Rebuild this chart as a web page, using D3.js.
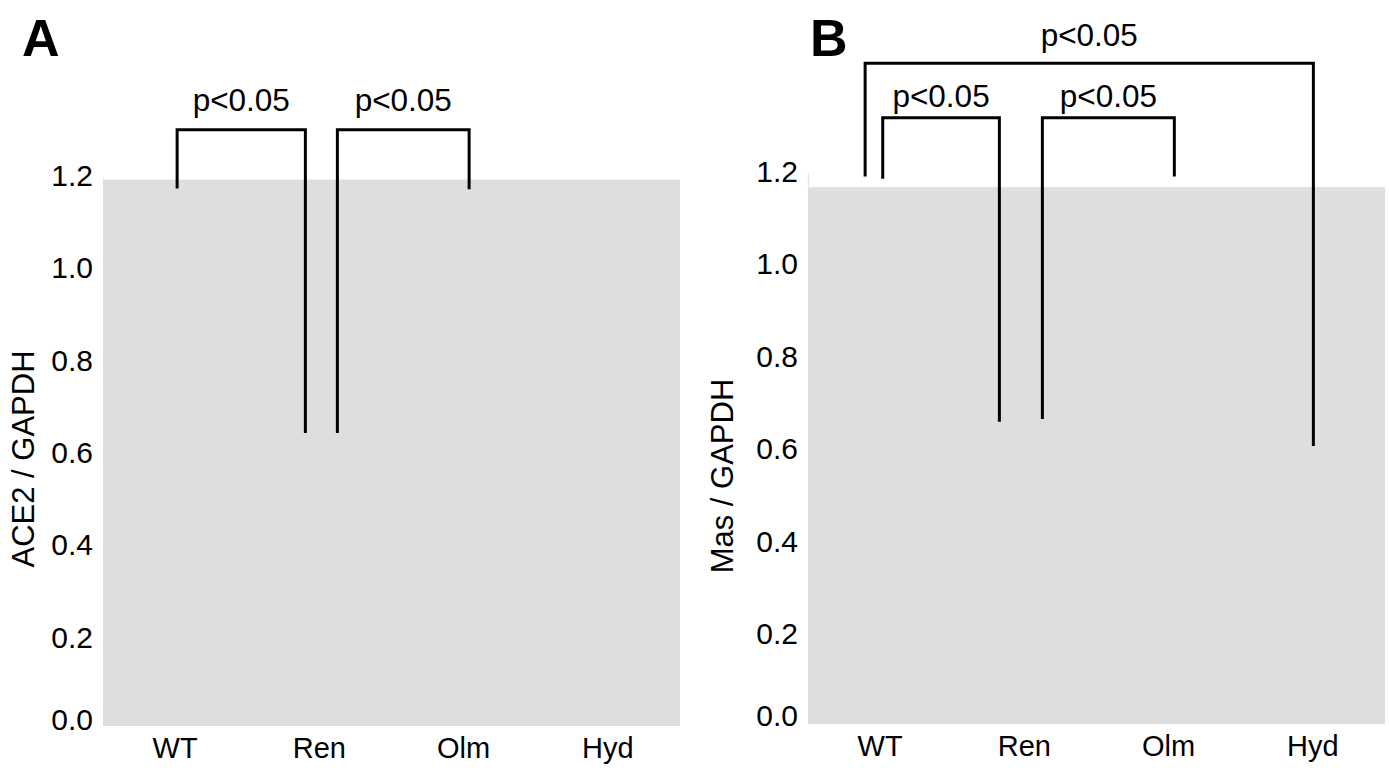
<!DOCTYPE html>
<html>
<head>
<meta charset="utf-8">
<script src="https://cdn.jsdelivr.net/npm/d3@7/dist/d3.min.js"></script>
<style>
  html, body { margin: 0; padding: 0; background: #ffffff; }
  svg { display: block; }
  text { font-family: "Liberation Sans", Arial, sans-serif; fill: #000; }
</style>
</head>
<body>
<svg id="chart" width="1389" height="772"></svg>
<script>
// ---------------- data ----------------
const categories = ["WT", "Ren", "Olm", "Hyd"];
const yTickValues = [0, 0.2, 0.4, 0.6, 0.8, 1.0, 1.2];
const panelLetters = ["A", "B"];
const yAxisTitles = ["ACE2 / GAPDH", "Mas / GAPDH"];
const backgroundTop = [1.19, 1.165];     // top of grey plot field (data units)

// Panel A significance brackets
const bracketPairsA = [["WT", "Ren"], ["Ren", "Olm"]];
const bracketTopA = [1.298, 1.298];
const bracketEndsA = [[1.171, 0.641], [0.641, 1.169]];
const bracketTextA = ["p<0.05", "p<0.05"];

// Panel B significance brackets
const bracketPairsB = [["WT", "Hyd"], ["WT", "Ren"], ["Ren", "Olm"]];
const bracketTopB = [1.433, 1.315, 1.315];
const bracketEndsB = [[1.188, 0.605], [1.183, 0.657], [0.663, 1.188]];
const bracketTextB = ["p<0.05", "p<0.05", "p<0.05"];

// ---------------- layout ----------------
const panels = [
  { left: 103, right: 680, y0: 729, y12: 175, letterX: 22, titleX: 34, titleY: 459, bottom: 726,
    legOffsets: [[2, -14], [18, 5.5]], labelGap: [19, 19],
    pairs: bracketPairsA, tops: bracketTopA, ends: bracketEndsA, texts: bracketTextA },
  { left: 808, right: 1385, y0: 725.4, y12: 171, letterX: 810, titleX: 733, titleY: 476, bottom: 724,
    legOffsets: [[-15, 0.5], [2.6, -25], [18, 5.7]], labelGap: [17, 11, 11],
    pairs: bracketPairsB, tops: bracketTopB, ends: bracketEndsB, texts: bracketTextB }
];

const svg = d3.select("#chart");

panels.forEach((p, pi) => {
  const x = d3.scaleBand().domain(categories).range([p.left, p.right]).padding(0);
  const y = d3.scaleLinear().domain([0, 1.2]).range([p.y0, p.y12]);
  const g = svg.append("g");

  // grey plot field
  g.append("rect")
    .attr("x", p.left).attr("y", y(backgroundTop[pi]))
    .attr("width", p.right - p.left)
    .attr("height", p.bottom - y(backgroundTop[pi]))
    .attr("fill", "#dededd");

  // faint axis line
  g.append("line")
    .attr("x1", p.left + 0.5).attr("x2", p.left + 0.5)
    .attr("y1", y(1.2) + 2).attr("y2", y(backgroundTop[pi]))
    .attr("stroke", "#e6e6e6").attr("stroke-width", 1.5);

  // y axis via d3 axis (ticks hidden, labels only)
  const yAxis = d3.axisLeft(y).tickValues(yTickValues).tickFormat(d3.format(".1f"))
    .tickSize(0).tickPadding(0);
  const ya = g.append("g").attr("transform", `translate(${p.left - 10},0)`).call(yAxis);
  ya.select(".domain").remove();
  ya.selectAll("text")
    .attr("font-family", "Liberation Sans, Arial, sans-serif")
    .attr("font-size", 30).attr("fill", "#000")
    .attr("dy", d => d === 0 ? "0em" : "0.35em");

  // x axis labels via d3 axis
  const xAxis = d3.axisBottom(x).tickSize(0).tickPadding(0);
  const xa = g.append("g").attr("transform", `translate(0,${p.bottom})`).call(xAxis);
  xa.select(".domain").remove();
  xa.selectAll("text")
    .attr("font-family", "Liberation Sans, Arial, sans-serif")
    .attr("font-size", 29).attr("fill", "#000")
    .attr("y", 32).attr("dy", 0);

  // y axis title
  g.append("text")
    .attr("transform", `translate(${p.titleX},${p.titleY}) rotate(-90)`)
    .attr("text-anchor", "middle")
    .attr("font-size", 31)
    .text(yAxisTitles[pi]);

  // panel letter
  g.append("text")
    .attr("x", p.letterX).attr("y", 56)
    .attr("font-size", 52).attr("font-weight", "bold")
    .text(panelLetters[pi]);

  // brackets
  p.pairs.forEach((pair, bi) => {
    const xl = x(pair[0]) + x.bandwidth() / 2 + p.legOffsets[bi][0];
    const xr = x(pair[1]) + x.bandwidth() / 2 + p.legOffsets[bi][1];
    const yt = y(p.tops[bi]);
    const path = d3.path();
    path.moveTo(xl, y(p.ends[bi][0]));
    path.lineTo(xl, yt);
    path.lineTo(xr, yt);
    path.lineTo(xr, y(p.ends[bi][1]));
    g.append("path")
      .attr("d", path.toString())
      .attr("fill", "none").attr("stroke", "#000")
      .attr("stroke-width", 3).attr("stroke-linejoin", "miter").attr("stroke-linecap", "butt");
    g.append("text")
      .attr("x", (xl + xr) / 2).attr("y", yt - p.labelGap[bi])
      .attr("text-anchor", "middle")
      .attr("font-size", 31.5)
      .text(p.texts[bi]);
  });
});
</script>
</body>
</html>
